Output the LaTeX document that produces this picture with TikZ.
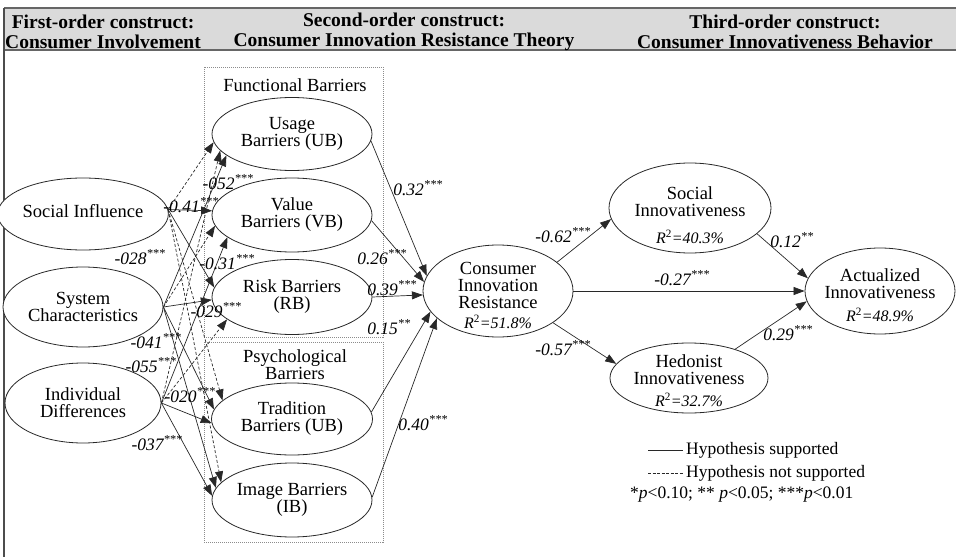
\documentclass[tikz,border=0pt]{standalone}
\usepackage{fontspec}
\setmainfont{Liberation Serif}
\usetikzlibrary{arrows.meta,shapes.geometric}
\definecolor{hdrgray}{RGB}{218,218,218}
\definecolor{linegray}{RGB}{40,40,40}
\newcommand\stars[1]{\textsuperscript{#1}}
\begin{document}
\begin{tikzpicture}[x=1pt,y=-1pt,
 ell/.style={draw=linegray,line width=0.8pt,ellipse,inner sep=0pt,fill=white,align=center,font=\fontsize{18.5}{17}\selectfont},
 txt/.style={inner sep=0pt,align=center,font=\fontsize{18.5}{17}\selectfont},
 rsq/.style={inner sep=0pt,font=\fontsize{16}{16}\selectfont\itshape},
 coef/.style={inner sep=0pt,font=\fontsize{17.5}{18}\selectfont\itshape},
 hdr/.style={inner sep=0pt,align=center,font=\fontsize{19.5}{20}\selectfont\bfseries},
 sig/.style={draw=linegray,line width=0.7pt,-{Triangle[length=11pt,width=8pt]}},
 nsig/.style={sig,dash pattern=on 3pt off 2pt},
 grp/.style={draw=black!45,line width=0.8pt,dash pattern=on 1pt off 1pt},
 leg/.style={inner sep=0pt,anchor=west,font=\fontsize{17.5}{18}\selectfont}]
\useasboundingbox (0,0) rectangle (956,559);
% header
\fill[hdrgray] (4,8) rectangle (956,50);
\draw[black!60,line width=1.8pt] (4,8) -- (956,8) (4,50) -- (956,50);
\draw[black!70,line width=1.5pt] (4,8) -- (4,557);
\node[hdr] (h1) at (103,32) {First-order construct:\\Consumer Involvement};
\node[hdr] (h2) at (404,32) {Second-order construct:\\Consumer Innovation Resistance Theory};
\node[hdr] (h3) at (785,32) {Third-order construct:\\Consumer Innovativeness Behavior};
% group boxes
\draw[grp] (204,67) rectangle (383,337);
\draw[grp] (204,342) rectangle (383,542);
\node[txt] (fb) at (295,85) {Functional Barriers};
\node[txt] (pb) at (295,365) {Psychological\\Barriers};
% first-order
\node[ell,minimum width=160pt,minimum height=72pt] (SI) at (83,214) {\raisebox{7pt}{Social Influence}};
\node[ell,minimum width=160pt,minimum height=80pt] (SC) at (83,307) {System\\Characteristics};
\node[ell,minimum width=156pt,minimum height=80pt] (ID) at (83,403) {Individual\\Differences};
% barriers
\node[ell,minimum width=160pt,minimum height=73pt] (UB) at (292,134) {Usage\\Barriers (UB)};
\node[ell,minimum width=160pt,minimum height=74pt] (VB) at (292,215) {Value\\Barriers (VB)};
\node[ell,minimum width=160pt,minimum height=75pt] (RB) at (292,297) {Risk Barriers\\(RB)};
\node[ell,minimum width=161pt,minimum height=72pt] (TB) at (292,419) {Tradition\\Barriers (UB)};
\node[ell,minimum width=160pt,minimum height=74pt] (IB) at (292,500) {Image Barriers\\(IB)};
% resistance and innovativeness
\node[ell,minimum width=150pt,minimum height=92pt] (CIR) at (498,291) {};
\node[txt] (CIRt) at (498,285) {Consumer\\Innovation\\Resistance};
\node[rsq] (CIRr) at (498,322) {R\stars{\upshape 2}=51.8\%};
\node[ell,minimum width=162pt,minimum height=90pt] (SocI) at (690,208) {};
\node[txt] (SocIt) at (690,202) {Social\\Innovativeness};
\node[rsq] (SocIr) at (690,237) {R\stars{\upshape 2}=40.3\%};
\node[ell,minimum width=158pt,minimum height=70pt] (HedI) at (689,378) {};
\node[txt] (HedIt) at (689,370) {Hedonist\\Innovativeness};
\node[rsq] (HedIr) at (689,400) {R\stars{\upshape 2}=32.7\%};
\node[ell,minimum width=150pt,minimum height=86pt] (ActI) at (880,291) {};
\node[txt] (ActIt) at (880,284) {Actualized\\Innovativeness};
\node[rsq] (ActIr) at (880,315) {R\stars{\upshape 2}=48.9\%};
% first-order -> barriers
\draw[nsig] (SI.3) -- (UB.186);
\draw[sig]  (SI.3) -- (VB.177);
\draw[sig]  (SI.3) -- (RB.173);
\draw[nsig] (SI.3) -- (TB.165);
\draw[nsig] (SI.3) -- (IB.166);
\draw[sig]  (SC.east) -- (UB.198);
\draw[nsig] (SC.east) -- (VB.188);
\draw[sig]  (SC.east) -- (RB.182);
\draw[sig]  (SC.east) -- (TB.173);
\draw[sig]  (SC.east) -- (IB.171);
\draw[nsig] (ID.east) -- (UB.193);
\draw[sig]  (ID.east) -- (VB.199);
\draw[nsig] (ID.east) -- (RB.199);
\draw[sig]  (ID.east) -- (TB.183);
\draw[sig]  (ID.east) -- (IB.177);
% barriers -> resistance
\draw[sig] (UB.355) -- (CIR.168);
\draw[sig] (VB.356) -- (CIR.173);
\draw[sig] (RB.east) -- (CIR.183);
\draw[sig] (TB.5) -- (CIR.197);
\draw[sig] (IB.2) -- (CIR.204);
% resistance -> innovativeness
\draw[sig] (CIR.26) -- (SocI.188);
\draw[sig] (CIR.east) -- (ActI.west);
\draw[sig] (CIR.330) -- (HedI.169);
\draw[sig] (SocI.339) -- (ActI.170);
\draw[sig] (HedI.32) -- (ActI.188);
% coefficients
\node[coef] (c1) at (228,182) {-052\stars{***}};
\node[coef] (c2) at (191,205) {-0.41\stars{***}};
\node[coef] (c3) at (140,257) {-028\stars{***}};
\node[coef] (c4) at (227,262) {-0.31\stars{***}};
\node[coef] (c5) at (216,310) {-029\stars{***}};
\node[coef] (c6) at (156,341) {-041\stars{***}};
\node[coef] (c7) at (151,365) {-055\stars{***}};
\node[coef] (c8) at (190,395) {-020\stars{***}};
\node[coef] (c9) at (157,443) {-037\stars{***}};
\node[coef] (c10) at (418,188) {0.32\stars{***}};
\node[coef] (c11) at (382,257) {0.26\stars{***}};
\node[coef] (c12) at (392,288) {0.39\stars{***}};
\node[coef] (c13) at (389,327) {0.15\stars{**}};
\node[coef] (c14) at (423,423) {0.40\stars{***}};
\node[coef] (c15) at (563,235) {-0.62\stars{***}};
\node[coef] (c16) at (682,278) {-0.27\stars{***}};
\node[coef] (c17) at (563,348) {-0.57\stars{***}};
\node[coef] (c18) at (792,240) {0.12\stars{**}};
\node[coef] (c19) at (788,333) {0.29\stars{***}};
% legend
\coordinate (la1) at (648,450); \coordinate (la2) at (683,450);
\draw[linegray,line width=0.7pt] (la1) -- (la2);
\node[leg] (lt1) at (686,450) {Hypothesis supported};
\coordinate (lb1) at (648,473); \coordinate (lb2) at (683,473);
\draw[linegray,line width=0.7pt,dash pattern=on 3pt off 1.5pt] (lb1) -- (lb2);
\node[leg] (lt2) at (686,473) {Hypothesis not supported};
\node[leg] (lt3) at (630,495) {*\textit{p}<0.10; ** \textit{p}<0.05; ***\textit{p}<0.01};
\end{tikzpicture}
\end{document}
